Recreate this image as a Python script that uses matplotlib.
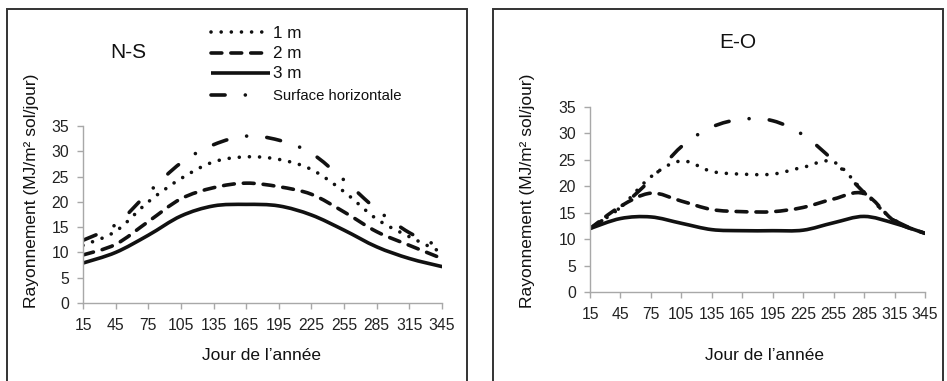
import numpy as np
import matplotlib
matplotlib.use("Agg")
import matplotlib.pyplot as plt
from matplotlib.path import Path
from matplotlib.patches import PathPatch, Rectangle
from matplotlib.lines import Line2D

plt.rcParams['font.family'] = ['Liberation Sans', 'DejaVu Sans']

# jour de l'annee (milieu de mois)
days = [15, 45, 75, 105, 135, 165, 195, 225, 255, 285, 315, 345]

# N-S
ns_1m = [11.4, 14.2, 20.0, 24.6, 27.9, 28.9, 28.4, 26.4, 22.0, 16.6, 13.1, 10.0]
ns_2m = [9.5, 11.6, 16.1, 20.6, 22.8, 23.7, 23.0, 21.5, 18.0, 14.1, 11.4, 8.8]
ns_3m = [7.9, 10.0, 13.4, 17.2, 19.2, 19.5, 19.2, 17.4, 14.4, 11.1, 8.8, 7.2]
ns_horiz = [12.4, 15.5, 21.8, 27.7, 31.3, 33.0, 32.2, 29.6, 24.3, 18.5, 13.9, 11.0]

# E-O
eo_1m = [12.0, 16.0, 21.8, 24.8, 22.8, 22.3, 22.3, 23.6, 24.6, 18.9, 13.5, 11.1]
eo_2m = [12.0, 16.2, 18.7, 17.2, 15.6, 15.2, 15.2, 16.0, 17.6, 18.6, 13.4, 11.1]
eo_3m = [12.0, 13.9, 14.2, 13.0, 11.8, 11.6, 11.6, 11.7, 13.1, 14.3, 13.0, 11.1]
eo_horiz = [12.0, 16.0, 21.3, 27.5, 31.2, 32.7, 32.4, 29.7, 24.8, 18.8, 13.6, 11.1]

labels = ["1 m", "2 m", "3 m", "Surface horizontale"]

W, H = 947, 381
LW = 2.6
INK = "#111111"
styles = [
    (0, (0.01, 2.8)),          # 1 m  pointille
    (0, (3.0, 2.5)),           # 2 m  tirets
    "solid",                   # 3 m
    (0, (3.9, 5.6, 0.01, 5.6)) # surface horizontale
]


def fx(px):
    return px / W


def fy(py):
    return 1 - py / H


def smooth_path(x, y):
    # lissage type Excel (Bezier, Catmull-Rom)
    pts = np.column_stack([x, y]).astype(float)
    n = len(pts)
    verts = [pts[0]]
    codes = [Path.MOVETO]
    for i in range(n - 1):
        p0 = pts[max(i - 1, 0)]
        p1 = pts[i]
        p2 = pts[i + 1]
        p3 = pts[min(i + 2, n - 1)]
        verts += [p1 + (p2 - p0) / 6, p2 - (p3 - p1) / 6, p2]
        codes += [Path.CURVE4] * 3
    return Path(verts, codes)


def draw_panel(ax, series):
    for ys, ls in zip(series, styles):
        patch = PathPatch(smooth_path(days, ys), fill=False, edgecolor=INK,
                          lw=LW, linestyle=ls, capstyle='round', joinstyle='round')
        ax.add_patch(patch)
    ax.set_xlim(days[0], days[-1])
    ax.set_ylim(0, 35)
    ax.set_xticks(days)
    ax.set_yticks(range(0, 36, 5))
    for s in ['top', 'right']:
        ax.spines[s].set_visible(False)
    for s in ['left', 'bottom']:
        ax.spines[s].set_color('#a8a8a8')
        ax.spines[s].set_linewidth(1.0)
    ax.tick_params(axis='both', colors='#a8a8a8', labelcolor='#222222',
                   labelsize=11.3, length=4, width=1.0)
    ax.tick_params(axis='x', pad=7)
    ax.tick_params(axis='y', pad=6)


fig = plt.figure(figsize=(W / 100, H / 100), dpi=100)

ax1 = fig.add_axes([fx(83), fy(303), fx(442) - fx(83), fy(126) - fy(303)])
draw_panel(ax1, [ns_1m, ns_2m, ns_3m, ns_horiz])

ax2 = fig.add_axes([fx(590), fy(292), fx(925) - fx(590), fy(107) - fy(292)])
draw_panel(ax2, [eo_1m, eo_2m, eo_3m, eo_horiz])

# cadres des panneaux
for x0, x1 in [(7, 467), (493, 943)]:
    fig.add_artist(Rectangle((fx(x0), -0.05), fx(x1) - fx(x0), fy(9) + 0.05,
                             transform=fig.transFigure, fill=False,
                             edgecolor='#333333', lw=1.4))

# titres
fig.text(fx(128), fy(52), "N-S", ha='center', va='center', fontsize=15, color='#111111')
fig.text(fx(738), fy(43), "E-O", ha='center', va='center', fontsize=15, color='#111111')

# axes labels
ylab = "Rayonnement (MJ/m² sol/jour)"
fig.text(fx(32), fy(191), ylab, rotation=90, ha='center', va='center', fontsize=12.5, color='#111111')
fig.text(fx(527), fy(191), ylab, rotation=90, ha='center', va='center', fontsize=12.5, color='#111111')
fig.text(fx(262), fy(355), "Jour de l’année", ha='center', va='center', fontsize=12.5, color='#111111')
fig.text(fx(764), fy(355), "Jour de l’année", ha='center', va='center', fontsize=12.5, color='#111111')

# legende
leg_y = [32, 53, 73, 95]
leg_size = [12.3, 12.3, 12.3, 10.7]
for lab, ls, py, sz in zip(labels, styles, leg_y, leg_size):
    x_end = 270 if ls == "solid" else 265
    fig.add_artist(Line2D([fx(211), fx(x_end)], [fy(py), fy(py)], transform=fig.transFigure,
                          color=INK, lw=LW, linestyle=ls,
                          dash_capstyle='round', solid_capstyle='butt'))
    fig.text(fx(273), fy(py + 1), lab, ha='left', va='center', fontsize=sz, color='#111111')

fig.savefig("out.png", dpi=100)
